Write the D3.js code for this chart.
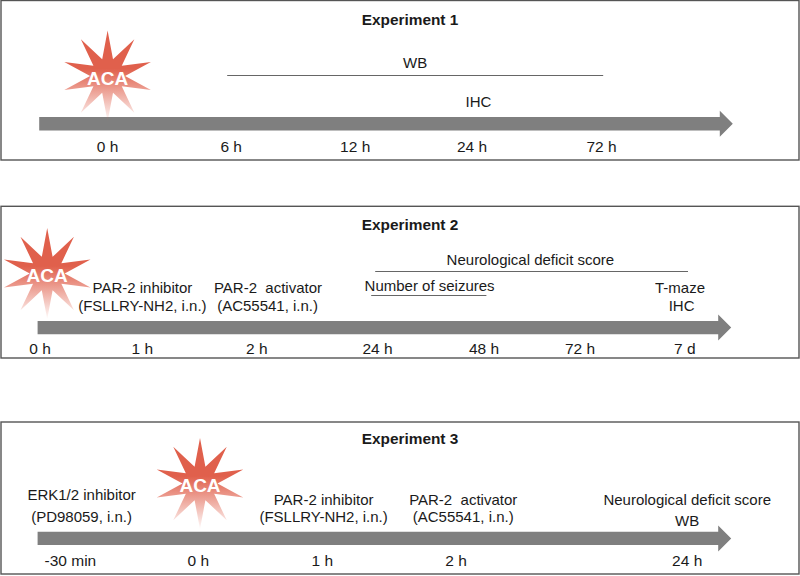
<!DOCTYPE html>
<html><head><meta charset="utf-8">
<script src="https://cdn.jsdelivr.net/npm/d3@7"></script>
<style>html,body{margin:0;padding:0;background:#fff}svg{display:block}text{font-family:"Liberation Sans",Arial,sans-serif;fill:#1a1a1a;white-space:pre}</style>
</head><body><svg id="c" width="800" height="576"></svg>
<script>
// Schematic timeline positions: % of the horizontal extent of the figure
const titles = ["Experiment 1","Experiment 2","Experiment 3"];
const exp1Ticks = ["0 h","6 h","12 h","24 h","72 h"];
const exp1TickPos = [13.45,28.9,44.4,59.0,75.2];
const exp2Ticks = ["0 h","1 h","2 h","24 h","48 h","72 h","7 d"];
const exp2TickPos = [5.0,17.8,32.1,47.2,60.5,72.5,85.6];
const exp3Ticks = ["-30 min","0 h","1 h","2 h","24 h"];
const exp3TickPos = [8.8,24.8,40.3,57.0,85.9];
const acaPos = [13.45,5.9,25];
const arrowStart = [4.9,4.7,4.7];
const arrowEnd = [91.6,91.4,91.4];
const exp1Notes = [["WB",51.9,0],["IHC",59.8,1]];
const exp2Notes = [["PAR-2 inhibitor",17.8,0],["(FSLLRY-NH2, i.n.)",17.8,1],["PAR-2  activator",33.5,0],["(AC55541, i.n.)",33.45,1],["Neurological deficit score",66.3,2],["Number of seizures",53.7,3],["T-maze",85.0,0],["IHC",85.2,1]];
const exp3Notes = [["ERK1/2 inhibitor",10.2,2],["(PD98059, i.n.)",10.2,1],["PAR-2 inhibitor",40.45,0],["(FSLLRY-NH2, i.n.)",40.45,1],["PAR-2  activator",57.9,0],["(AC55541, i.n.)",57.9,1],["Neurological deficit score",85.9,0],["WB",85.9,3]];
const exp1Spans = [[28.4,75.4]];
const exp2Spans = [[46.9,86],[46.4,60.8]];

const svg = d3.select("#c");
const x = d3.scaleLinear().domain([0,100]).range([0,800]);
const panels = [
 {top:0.5,bottom:160,title:25,bar:123.8,tickY:152,star:76,notes:exp1Notes,noteY:[68,107],ticks:exp1Ticks,pos:exp1TickPos,spans:exp1Spans,spanY:[75.5]},
 {top:206.3,bottom:358,title:229.5,bar:327.6,tickY:353.5,star:273.5,notes:exp2Notes,noteY:[293,310.5,264.5,291],ticks:exp2Ticks,pos:exp2TickPos,spans:exp2Spans,spanY:[271.5,295.5]},
 {top:422,bottom:574,title:444,bar:538.4,tickY:565.5,star:483.5,notes:exp3Notes,noteY:[504.5,521.5,500,525.5],ticks:exp3Ticks,pos:exp3TickPos,spans:[],spanY:[]}
];
const grad = svg.append("defs").append("linearGradient").attr("id","burst").attr("x1",0).attr("x2",0).attr("y1",0).attr("y2",1);
grad.append("stop").attr("offset","0").attr("stop-color","#e0604c");
grad.append("stop").attr("offset","0.42").attr("stop-color","#e0604c");
grad.append("stop").attr("offset","1").attr("stop-color","#e0604c").attr("stop-opacity",0.03);
const starLine = d3.lineRadial().curve(d3.curveLinearClosed);
const starPts = d3.range(20).map(i=>[i*Math.PI/10, i%2?17.5:45.5]);

panels.forEach((p,i)=>{
  const g = svg.append("g");
  g.append("rect").attr("x",1).attr("y",p.top).attr("width",798).attr("height",p.bottom-p.top)
   .attr("fill","none").attr("stroke","#555").attr("stroke-width",1.4);
  const x0=x(arrowStart[i]), x1=x(arrowEnd[i]);
  g.append("path").attr("fill","#7f7f7f")
   .attr("d",d3.line()([[x0,p.bar-6.7],[x1-13,p.bar-6.7],[x1-13,p.bar-13],[x1,p.bar],[x1-13,p.bar+13],[x1-13,p.bar+6.7],[x0,p.bar+6.7]])+"Z");
  g.append("text").attr("x",410).attr("y",p.title).attr("text-anchor","middle").attr("font-size",15.4).attr("font-weight",700).text(titles[i]);
  g.selectAll("text.t").data(p.ticks).join("text").attr("class","t").attr("x",(d,k)=>x(p.pos[k])).attr("y",p.tickY)
   .attr("text-anchor","middle").attr("font-size",15.5).text(d=>d);
  g.selectAll("text.n").data(p.notes).join("text").attr("class","n").attr("x",d=>x(d[1])).attr("y",d=>p.noteY[d[2]])
   .attr("text-anchor","middle").attr("font-size",15).text(d=>d[0]);
  g.selectAll("line.s").data(p.spans).join("line").attr("class","s").attr("x1",d=>x(d[0])).attr("x2",d=>x(d[1]))
   .attr("y1",(d,k)=>p.spanY[k]).attr("y2",(d,k)=>p.spanY[k]).attr("stroke","#666").attr("stroke-width",1);
  const sg = g.append("g").attr("transform",`translate(${x(acaPos[i])},${p.star})`);
  sg.append("path").attr("d",starLine(starPts)).attr("fill","url(#burst)");
  sg.append("text").attr("y",8.5).attr("text-anchor","middle").attr("font-size",19).attr("font-weight",700).style("fill","#fff").text("ACA");
});
</script></body></html>
